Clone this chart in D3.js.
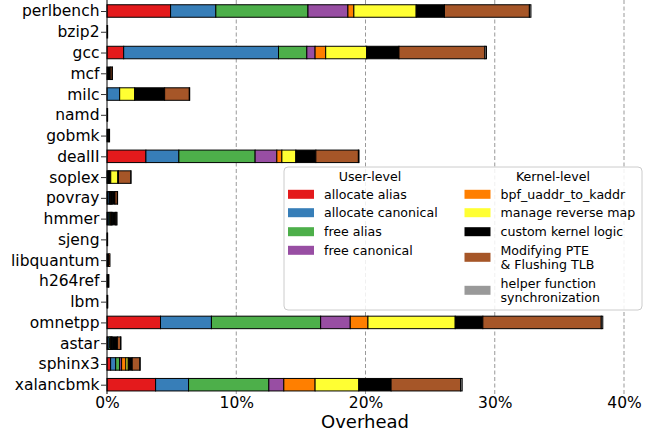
<!DOCTYPE html>
<html>
<head>
<meta charset="utf-8">
<script src="https://cdn.jsdelivr.net/npm/d3@7"></script>
<style>
  body { margin: 0; background: #fff; }
  svg text { font-family: "DejaVu Sans", sans-serif; }
</style>
</head>
<body>
<div id="chart"></div>
<script>
var benchmarks = ["perlbench", "bzip2", "gcc", "mcf", "milc", "namd", "gobmk", "dealII", "soplex",
  "povray", "hmmer", "sjeng", "libquantum", "h264ref", "lbm", "omnetpp", "astar", "sphinx3", "xalancbmk"];

// overhead in %, one entry per benchmark
var allocateAlias     = [4.92, 0, 1.29, 0, 0,    0, 0,    3.01, 0.06, 0.05, 0.06, 0, 0,    0,    0,    4.14, 0.05, 0.28, 3.76];
var allocateCanonical = [3.50, 0, 11.98, 0, 0.98, 0, 0,   2.55, 0.06, 0.12, 0.10, 0, 0,    0,    0,    3.94, 0.12, 0.39, 2.55];
var freeAlias         = [7.13, 0, 2.19, 0, 0,    0, 0,    5.90, 0.06, 0.06, 0.08, 0, 0,    0,    0,    8.45, 0.08, 0.31, 6.21];
var freeCanonical     = [3.09, 0, 0.64, 0, 0,    0, 0,    1.68, 0.05, 0.05, 0.05, 0, 0,    0,    0,    2.29, 0.05, 0.15, 1.16];
var bpfUaddr          = [0.46, 0, 0.82, 0, 0,    0, 0,    0.39, 0.06, 0.06, 0.06, 0, 0,    0,    0,    1.37, 0.05, 0.33, 2.42];
var reverseMap        = [4.82, 0, 3.17, 0, 1.16, 0, 0,    1.08, 0.55, 0.06, 0.05, 0, 0,    0,    0,    6.75, 0.05, 0.18, 3.38];
var kernelLogic       = [2.19, 0.05, 2.50, 0.25, 2.32, 0.03, 0.15, 1.55, 0.05, 0.22, 0.25, 0.03, 0.15, 0.10, 0.04, 2.14, 0.40, 0.31, 2.50];
var modifyPte         = [6.57, 0, 6.65, 0.15, 1.91, 0.02, 0.05, 3.29, 0.95, 0.18, 0.10, 0.02, 0.08, 0.05, 0.02, 9.16, 0.25, 0.59, 5.38];
var helperSync        = [0.12, 0, 0.12, 0.02, 0.03, 0, 0,    0.05, 0.02, 0.02, 0.02, 0, 0,    0,    0,    0.12, 0.03, 0.03, 0.12];

var seriesNames = ["allocate alias", "allocate canonical", "free alias", "free canonical",
  "bpf_uaddr_to_kaddr", "manage reverse map", "custom kernel logic",
  "Modifying PTE\n& Flushing TLB", "helper function\nsynchronization"];
var seriesValues = [allocateAlias, allocateCanonical, freeAlias, freeCanonical,
  bpfUaddr, reverseMap, kernelLogic, modifyPte, helperSync];
var colors = ["#e41a1c", "#377eb8", "#4daf4a", "#984ea3", "#ff7f00", "#ffff33", "#000000", "#a65628", "#999999"];
var xTicks = [0, 10, 20, 30, 40];

var width = 649, height = 433;
var font = "DejaVu Sans, sans-serif";

var svg = d3.select("#chart").append("svg")
  .attr("width", width)
  .attr("height", height);

var x = d3.scaleLinear().domain([0, 40]).range([107, 624]);
var y = d3.scalePoint().domain(benchmarks).range([11, 384.7]);
var barH = 12.5;

// table for stacking
var table = benchmarks.map(function(b, i) {
  var row = {name: b};
  seriesNames.forEach(function(s, j) { row[s] = seriesValues[j][i]; });
  return row;
});
var stack = d3.stack().keys(seriesNames)(table);

// grid
svg.append("g").selectAll("line")
  .data(xTicks.slice(1))
  .enter().append("line")
    .attr("x1", function(d) { return x(d); })
    .attr("x2", function(d) { return x(d); })
    .attr("y1", 0)
    .attr("y2", 394)
    .attr("stroke", "#999")
    .attr("stroke-width", 1)
    .attr("stroke-dasharray", "4,2.5");

// bars
svg.append("g").selectAll("g")
  .data(stack)
  .enter().append("g")
    .attr("fill", function(d, i) { return colors[i]; })
  .selectAll("rect")
  .data(function(d) { return d; })
  .enter().append("rect")
    .attr("x", function(d) { return x(d[0]); })
    .attr("width", function(d) { return Math.max(0, x(d[1]) - x(d[0])); })
    .attr("y", function(d) { return y(d.data.name) - barH / 2; })
    .attr("height", barH)
    .attr("stroke", function(d) { return d[1] > d[0] ? "#000" : "none"; })
    .attr("stroke-width", 1);

// y axis
var yAxis = svg.append("g")
  .attr("transform", "translate(" + x(0) + ",0)")
  .call(d3.axisLeft(y).tickSize(6).tickPadding(1.5));
yAxis.attr("font-family", font);
yAxis.select(".domain").attr("d", "M0,0V394").attr("stroke", "#000");
yAxis.selectAll("line").attr("stroke", "#333");
yAxis.selectAll("text").attr("font-family", font).style("font-size", "15.5px").attr("fill", "#000");

// x axis (labels only)
var xAxis = svg.append("g")
  .attr("transform", "translate(0,394)")
  .call(d3.axisBottom(x).tickValues(xTicks).tickSize(0).tickPadding(3)
    .tickFormat(function(d) { return d + "%"; }));
xAxis.attr("font-family", font);
xAxis.select(".domain").remove();
xAxis.selectAll("text").attr("font-family", font).style("font-size", "15.5px").attr("fill", "#000");

svg.append("text")
  .attr("x", 365)
  .attr("y", 428)
  .attr("text-anchor", "middle")
  .attr("font-family", font)
  .style("font-size", "18px")
  .text("Overhead");

// legend
var legend = svg.append("g").attr("font-family", font);
legend.append("rect")
  .attr("x", 284).attr("y", 167)
  .attr("width", 358).attr("height", 143)
  .attr("rx", 4)
  .attr("fill", "#fff").attr("fill-opacity", 0.85)
  .attr("stroke", "#ccc");

legend.append("text").attr("x", 370).attr("y", 180.5)
  .attr("text-anchor", "middle").style("font-size", "12.6px").text("User-level");
legend.append("text").attr("x", 553).attr("y", 180.5)
  .attr("text-anchor", "middle").style("font-size", "12.6px").text("Kernel-level");

var legendPos = [
  {x: 288, y: 194.3}, {x: 288, y: 212.7}, {x: 288, y: 231.7}, {x: 288, y: 250.3},
  {x: 464.5, y: 194.3}, {x: 464.5, y: 212.7}, {x: 464.5, y: 231.7}, {x: 464.5, y: 257.3}, {x: 464.5, y: 290.3}
];

var item = legend.selectAll(".item")
  .data(seriesNames)
  .enter().append("g")
    .attr("class", "item")
    .attr("transform", function(d, i) { return "translate(" + legendPos[i].x + "," + legendPos[i].y + ")"; });

item.append("rect")
  .attr("x", 0).attr("y", -4.5)
  .attr("width", 26).attr("height", 9)
  .attr("fill", function(d, i) { return colors[i]; });

item.append("text")
  .attr("x", 36)
  .style("font-size", "12.6px")
  .each(function(d) {
    var lines = d.split("\n");
    var t = d3.select(this);
    lines.forEach(function(l, k) {
      t.append("tspan")
        .attr("x", 36)
        .attr("y", (k - (lines.length - 1) / 2) * 14.2)
        .attr("dy", "0.35em")
        .text(l);
    });
  });
</script>
</body>
</html>
